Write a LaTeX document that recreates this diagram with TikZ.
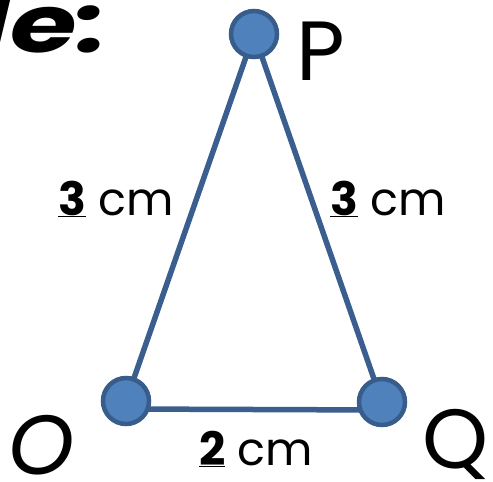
\documentclass[tikz,border=0pt]{standalone}
\usepackage{fontspec}
\setmainfont{Poppins}
\definecolor{ptfill}{HTML}{4F81BD}
\definecolor{ptedge}{HTML}{385D8A}
\definecolor{sidecol}{HTML}{3A5F8F}
\begin{document}
\begin{tikzpicture}[x=1pt,y=-1pt,
  pt/.style={circle,fill=ptfill,draw=ptedge,line width=4.5pt,minimum size=46pt,inner sep=0pt},
  side/.style={draw=sidecol,line width=5.5pt},
  lenlab/.style={inner sep=0pt,font=\fontsize{46}{54}\selectfont},
  vlab/.style={inner sep=0pt,font=\fontsize{84}{96}\selectfont}]
\useasboundingbox (0,0) rectangle (493,482);
\fill[white] (0,0) rectangle (493,482);
\coordinate (Pc) at (254,34);
\coordinate (Oc) at (126,401);
\coordinate (Qc) at (382,402);
\draw[side] (Pc) -- (Oc);
\draw[side] (Pc) -- (Qc);
\draw[side] ([yshift=-8pt]Oc) -- ([yshift=-8pt]Qc);
\node[pt] (P) at (Pc) {};
\node[pt] (O) at (Oc) {};
\node[pt] (Q) at (Qc) {};
\node[vlab,anchor=base west] (lP) at (296,80) {P};
\node[vlab,anchor=base west] (lO) at (8,474) {\textit{O}};
\node[vlab,anchor=base west] (lQ) at (422,468) {Q};
\node[lenlab,anchor=base west] (lOP) at (58,215) {\underline{\textbf{3}} cm};
\node[lenlab,anchor=base west] (lPQ) at (330,215) {\underline{\textbf{3}} cm};
\node[lenlab,anchor=base west] (lOQ) at (199,465) {\underline{\textbf{2}} cm};
\node[inner sep=0pt,anchor=base east,xscale=1.35,font=\fontsize{80}{90}\selectfont\bfseries\itshape] (title) at (108,52) {le:};
\end{tikzpicture}
\end{document}
